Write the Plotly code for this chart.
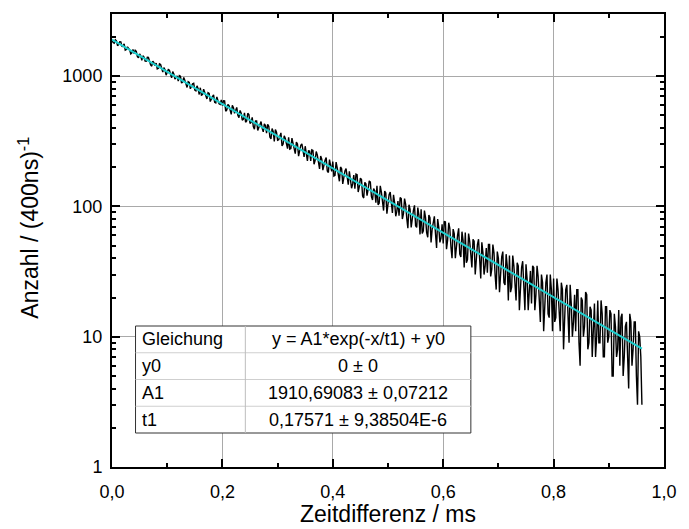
import numpy as np
import plotly.graph_objects as go

# ---- data (counts per 400 ns bin) ----
# counts_a: bins at 0.000, 0.004, 0.008, ... ms ; counts_b: bins at 0.002, 0.006, ... ms
bin_step_ms = 0.002
counts_a = [
    1905, 1793, 1863, 1749, 1832, 1689, 1584, 1679, 1593, 1510,
    1492, 1548, 1381, 1436, 1432, 1304, 1394, 1285, 1193, 1265,
    1260, 1149, 1227, 1075, 1118, 1060, 1110, 972, 1040, 978,
    917, 1000, 904, 928, 819, 895, 834, 881, 772, 802,
    815, 722, 750, 668, 737, 672, 718, 623, 647, 608,
    594, 646, 550, 595, 509, 573, 539, 501, 546, 459,
    522, 453, 508, 442, 410, 453, 383, 441, 399, 430,
    365, 413, 330, 376, 389, 322, 345, 291, 349, 303,
    340, 278, 304, 254, 302, 265, 302, 240, 255, 267,
    224, 269, 226, 248, 194, 231, 211, 237, 182, 206,
    221, 173, 198, 156, 195, 170, 195, 147, 166, 149,
    137, 175, 142, 161, 116, 149, 135, 154, 112, 132,
    144, 106, 129, 93, 127, 107, 129, 89, 107, 92,
    85, 115, 88, 104, 68, 95, 84, 102, 69, 86,
    95, 65, 82, 58, 82, 67, 84, 48, 69, 57,
    52, 76, 55, 68, 40, 62, 53, 68, 41, 55,
    63, 39, 54, 34, 54, 42, 56, 28, 44, 35,
    31, 51, 33, 44, 23, 40, 33, 45, 25, 35,
    42, 24, 35, 19, 35, 26, 38, 16, 28, 21,
    18, 34, 21, 29, 13, 26, 21, 30, 14, 23,
    28, 14, 23, 11, 23, 16, 25, 9, 18, 13,
    11, 23, 6, 19, 12, 21, 9, 16, 14, 7,
    19, 9, 15, 7, 17, 10, 15, 5, 12, 8,
    6, 15, 7, 13, 4, 13, 8, 13, 3, 10,
    3,
]
counts_b = [
    1813, 1902, 1715, 1836, 1691, 1771, 1599, 1644, 1481, 1601,
    1580, 1412, 1481, 1322, 1401, 1303, 1392, 1219, 1305, 1201,
    1138, 1242, 1111, 1164, 1017, 1124, 1024, 1083, 949, 1006,
    1011, 885, 976, 864, 906, 800, 874, 781, 843, 723,
    714, 795, 698, 746, 638, 698, 630, 694, 615, 657,
    647, 538, 607, 532, 597, 518, 576, 480, 519, 468,
    443, 519, 433, 483, 392, 453, 404, 448, 374, 418,
    426, 341, 396, 315, 371, 325, 367, 301, 332, 278,
    275, 335, 272, 312, 243, 295, 259, 290, 224, 266,
    272, 211, 264, 209, 244, 190, 226, 187, 229, 186,
    171, 219, 168, 201, 149, 187, 159, 186, 138, 174,
    177, 129, 165, 120, 153, 121, 157, 119, 137, 107,
    103, 144, 106, 131, 88, 123, 100, 123, 84, 110,
    117, 80, 115, 81, 103, 69, 93, 71, 98, 61,
    62, 93, 63, 86, 53, 79, 62, 80, 53, 73,
    77, 47, 75, 49, 67, 40, 60, 43, 64, 34,
    37, 62, 39, 56, 30, 51, 38, 53, 30, 48,
    51, 29, 51, 30, 45, 22, 41, 26, 43, 19,
    22, 42, 23, 37, 16, 34, 23, 36, 16, 32,
    35, 16, 35, 17, 30, 11, 26, 15, 30, 11,
    13, 28, 14, 26, 8, 23, 14, 25, 10, 21,
    23, 9, 20, 10, 22, 8, 17, 7, 18, 10,
    9, 19, 7, 17, 9, 16, 5, 15, 7, 16,
    14, 5, 12, 6, 15, 6, 13, 5, 11, 7,
]
counts = []
for i, a in enumerate(counts_a):
    counts.append(a)
    if i < len(counts_b):
        counts.append(counts_b[i])
time_ms = np.round(np.arange(len(counts)) * bin_step_ms, 4)

# fit line end points (exponential -> straight on log axis)
fit_x = [0.0, 0.96]
fit_y = [1910.69, 8.09]

# tick labels
x_tickvals = [0.0, 0.2, 0.4, 0.6, 0.8, 1.0]
x_ticktext = ["0,0", "0,2", "0,4", "0,6", "0,8", "1,0"]
y_tickvals = [1, 10, 100, 1000]
y_ticktext = ["1", "10", "100", "1000"]
y_minor = [m * 10 ** e for e in range(0, 4) for m in range(2, 10)]

# table text
table_left = ["Gleichung", "y0", "A1", "t1"]
table_right = ["y = A1*exp(-x/t1) + y0", "0 ± 0", "1910,69083 ± 0,07212", "0,17571 ± 9,38504E-6"]

# ---- layout geometry (pixels) ----
W, H = 689, 529
L, R, T, B = 112, 675, 14, 467
pw, ph = R - L, B - T


def px(xp):
    return (xp - L) / pw


def py(yp):
    return (B - yp) / ph


FONT = "Liberation Sans, Arial, sans-serif"

fig = go.Figure()
fig.add_trace(go.Scatter(x=time_ms, y=counts, mode="lines",
                         line=dict(color="black", width=1.4), showlegend=False))
fig.add_trace(go.Scatter(x=fit_x, y=fit_y, mode="lines",
                         line=dict(color="#1ccfcf", width=2), showlegend=False))

axis_common = dict(
    showline=True, linecolor="black", linewidth=2, mirror="allticks",
    ticks="inside", ticklen=8, tickwidth=1.5, tickcolor="black",
    showgrid=True, gridcolor="#a9a9a9", gridwidth=1, zeroline=False,
    tickfont=dict(family=FONT, size=18, color="black"),
)

fig.update_xaxes(
    range=[0, 1], tickvals=x_tickvals, ticktext=x_ticktext,
    minor=dict(tickvals=[0.1, 0.3, 0.5, 0.7, 0.9], ticks="inside", ticklen=4,
               tickcolor="black", tickwidth=1.5, showgrid=False),
    ticklabelstandoff=7,
    **axis_common,
)
fig.update_yaxes(
    type="log", range=[0, np.log10(3000)], tickvals=y_tickvals, ticktext=y_ticktext,
    minor=dict(tickvals=y_minor, ticks="inside", ticklen=4,
               tickcolor="black", tickwidth=1.5, showgrid=False),
    ticklabelstandoff=4,
    **axis_common,
)

shapes = []
annotations = []

# table
tx0, tx1, tcol = 136, 478, 248
ty0, ty1 = 326, 433
nrows = len(table_left)
rh = (ty1 - ty0) / nrows
shapes.append(dict(type="rect", xref="paper", yref="paper",
                   x0=px(tx0), x1=px(tx1), y0=py(ty1), y1=py(ty0),
                   fillcolor="white", line=dict(color="#333333", width=1), layer="above"))
for i in range(1, nrows):
    yy = ty0 + i * rh
    shapes.append(dict(type="line", xref="paper", yref="paper",
                       x0=px(tx0), x1=px(tx1), y0=py(yy), y1=py(yy),
                       line=dict(color="#cfcfcf", width=1), layer="above"))
shapes.append(dict(type="line", xref="paper", yref="paper",
                   x0=px(tcol), x1=px(tcol), y0=py(ty0), y1=py(ty1),
                   line=dict(color="#bdbdbd", width=1), layer="above"))
for i in range(nrows):
    yc = ty0 + (i + 0.5) * rh
    annotations.append(dict(xref="paper", yref="paper", x=px(tx0 + 5), y=py(yc),
                            text=table_left[i], showarrow=False, xanchor="left", yanchor="middle",
                            font=dict(family=FONT, size=18, color="black")))
    annotations.append(dict(xref="paper", yref="paper", x=px((tcol + tx1) / 2), y=py(yc),
                            text=table_right[i], showarrow=False, xanchor="center", yanchor="middle",
                            font=dict(family=FONT, size=18, color="black")))

# axis titles
annotations.append(dict(xref="paper", yref="paper", x=px(393.5), y=py(514),
                        text="Zeitdifferenz / ms", showarrow=False,
                        xanchor="center", yanchor="middle",
                        font=dict(family=FONT, size=23, color="black")))
annotations.append(dict(xref="paper", yref="paper", x=px(27), y=py(228),
                        text="Anzahl / (400ns)<sup>-1</sup>", showarrow=False, textangle=-90,
                        xanchor="center", yanchor="middle",
                        font=dict(family=FONT, size=23, color="black")))

fig.update_layout(
    width=W, height=H,
    margin=dict(l=L, r=W - R, t=T, b=H - B, pad=0),
    paper_bgcolor="white", plot_bgcolor="white",
    shapes=shapes, annotations=annotations,
    showlegend=False,
)

fig.write_html("out.html")
